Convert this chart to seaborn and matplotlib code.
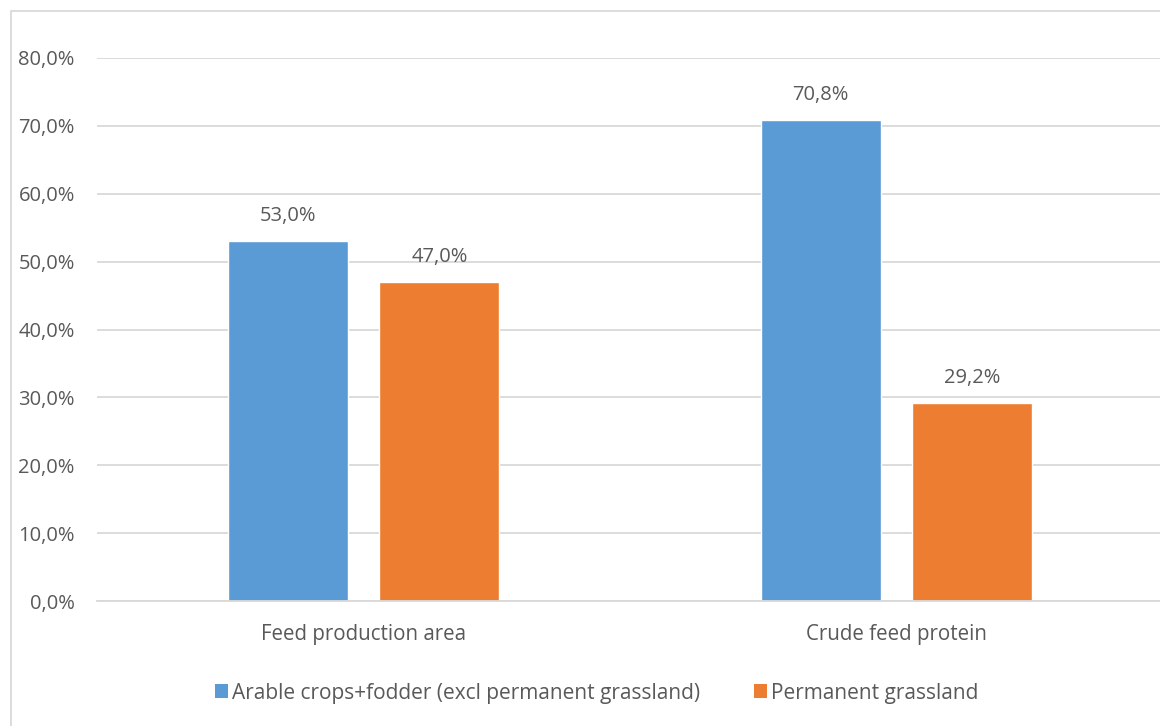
import matplotlib
matplotlib.use("Agg")
import matplotlib.pyplot as plt
import seaborn as sns
import pandas as pd
from matplotlib.patches import Rectangle, Patch
from matplotlib.ticker import FuncFormatter

categories = ["Feed production area", "Crude feed protein"]
series_names = ["Arable crops+fodder (excl permanent grassland)", "Permanent grassland"]
arable = [53.0, 70.8]
grassland = [47.0, 29.2]
colors = ["#5B9BD5", "#ED7D31"]

df = pd.DataFrame({
    "category": categories * 2,
    "series": [series_names[0]] * 2 + [series_names[1]] * 2,
    "value": arable + grassland,
})

sns.set_theme(style="white")
plt.rcParams["font.family"] = ["Open Sans", "DejaVu Sans"]
TXT = "#595959"
FS = 14.8
W, H = 1160, 726
fig = plt.figure(figsize=(W / 100, H / 100), dpi=100)

# chart border (only top/left visible in reference)
fig.patches.append(Rectangle((11 / W, -0.1), 1.2, 1 - 11 / H + 0.1,
                             transform=fig.transFigure, fill=False,
                             edgecolor="#D9D9D9", linewidth=1.3))

ax = fig.add_axes([97 / W, (H - 601) / H, (1163 - 97) / W, 543 / H])
sns.barplot(data=df, x="category", y="value", hue="series", order=categories,
            hue_order=series_names, palette=colors, width=0.57, gap=0.21,
            ax=ax, legend=False, saturation=1)

ax.set_ylim(0, 80)
ax.set_xlim(-0.5, 1.5)
ax.set_yticks(range(0, 81, 10))
ax.yaxis.set_major_formatter(FuncFormatter(lambda v, p: f"{v:.1f}%".replace(".", ",")))
ax.grid(axis="y", color="#D9D9D9", linewidth=1.3)
ax.set_axisbelow(True)
for s in ["top", "right", "left"]:
    ax.spines[s].set_visible(False)
ax.spines["bottom"].set_color("#D9D9D9")
ax.spines["bottom"].set_linewidth(1.3)
ax.tick_params(axis="y", length=0, pad=16, labelsize=14.5, labelcolor=TXT)
ax.tick_params(axis="x", length=0, pad=16.5, labelsize=FS, labelcolor=TXT)
ax.set_xlabel("")
ax.set_ylabel("")

for cont in ax.containers:
    ax.bar_label(cont, labels=[f"{v:.1f}%".replace(".", ",") for v in cont.datavalues],
                 padding=11, fontsize=14.5, color=TXT)

handles = [Patch(facecolor=c, edgecolor="none") for c in colors]
fig.legend(handles, series_names, loc="center", bbox_to_anchor=(597 / W, (H - 693) / H),
           ncol=2, frameon=False, fontsize=15, labelcolor=TXT, handlelength=0.6,
           handleheight=0.65, handletextpad=0.2, columnspacing=2.6)

fig.savefig("out.png", dpi=100)
